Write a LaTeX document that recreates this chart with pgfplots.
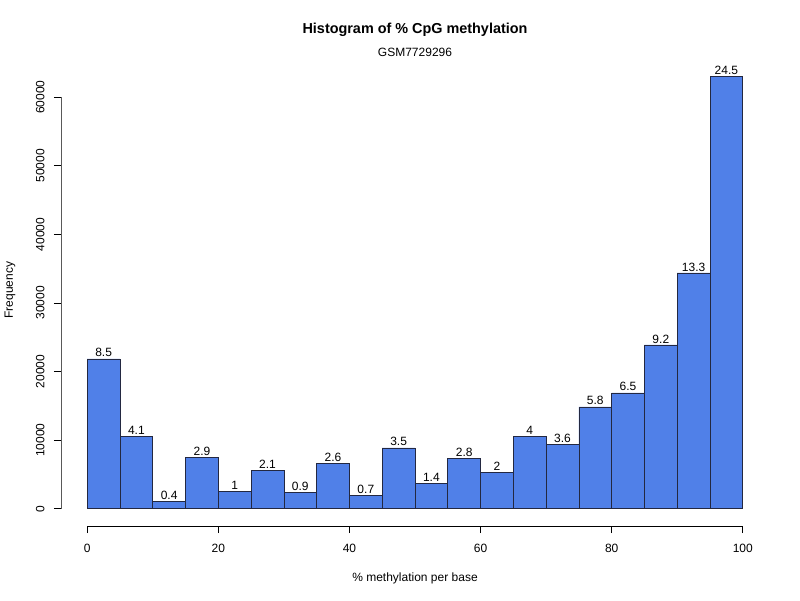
\documentclass[border=0pt]{standalone}
\usepackage{pgfplots}
\pgfplotsset{compat=1.18}
\usepackage{fontspec}
\setmainfont{Liberation Sans}
\definecolor{barfill}{RGB}{80,128,232}
\definecolor{barline}{RGB}{35,40,65}
\begin{document}
\begin{tikzpicture}[x=1pt,y=1pt]
\path[use as bounding box] (-61,-74) rectangle (739,526);
\begin{axis}[
  at={(0,0)}, anchor=south west,
  scale only axis, width=708pt, height=467pt,
  xmin=-4, xmax=104, ymin=-2522, ymax=65572,
  axis line style={draw=none},
  xtick pos=bottom, ytick pos=left,
  tick align=outside, major tick length=7pt,
  tick style={black, line width=0.6pt},
  xtick={0,20,40,60,80,100},
  ytick={0,10000,20000,30000,40000,50000,60000},
  yticklabel style={rotate=90, anchor=south, yshift=6pt},
  scaled y ticks=false,
  /pgf/number format/assume math mode=true,
  yticklabel={\pgfmathprintnumber[fixed,1000 sep={}]{\tick}},
  ticklabel style={font=\fontsize{12}{14}\selectfont},
  xticklabel style={yshift=-8pt},
  clip=false,
]
\draw[black, line width=0.6pt] (axis cs:0,-2522) -- (axis cs:100,-2522);
\draw[gray!70!black, line width=0.6pt] (axis cs:-4,0) -- (axis cs:-4,60000);
\addplot[ybar, bar width=5, fill=barfill, draw=barline, line width=0.6pt,
  nodes near coords, point meta=explicit symbolic,
  every node near coord/.append style={font=\fontsize{12}{14}\selectfont, inner sep=1.5pt, black}]
coordinates {
(2.5,21850) [8.5]
(7.5,10490) [4.1]
(12.5,1020) [0.4]
(17.5,7430) [2.9]
(22.5,2480) [1]
(27.5,5530) [2.1]
(32.5,2330) [0.9]
(37.5,6550) [2.6]
(42.5,1890) [0.7]
(47.5,8880) [3.5]
(52.5,3640) [1.4]
(57.5,7280) [2.8]
(62.5,5240) [2]
(67.5,10490) [4]
(72.5,9320) [3.6]
(77.5,14850) [5.8]
(82.5,16890) [6.5]
(87.5,23880) [9.2]
(92.5,34370) [13.3]
(97.5,63050) [24.5]
};
\end{axis}
\node[font=\bfseries\fontsize{14.4}{16}\selectfont] at (354,496) {Histogram of \% CpG methylation};
\node[font=\fontsize{12}{14}\selectfont] at (354,474) {GSM7729296};
\node[font=\fontsize{12}{14}\selectfont] at (354,-52) {\% methylation per base};
\node[font=\fontsize{12}{14}\selectfont, rotate=90] at (-51,236) {Frequency};
\end{tikzpicture}
\end{document}
